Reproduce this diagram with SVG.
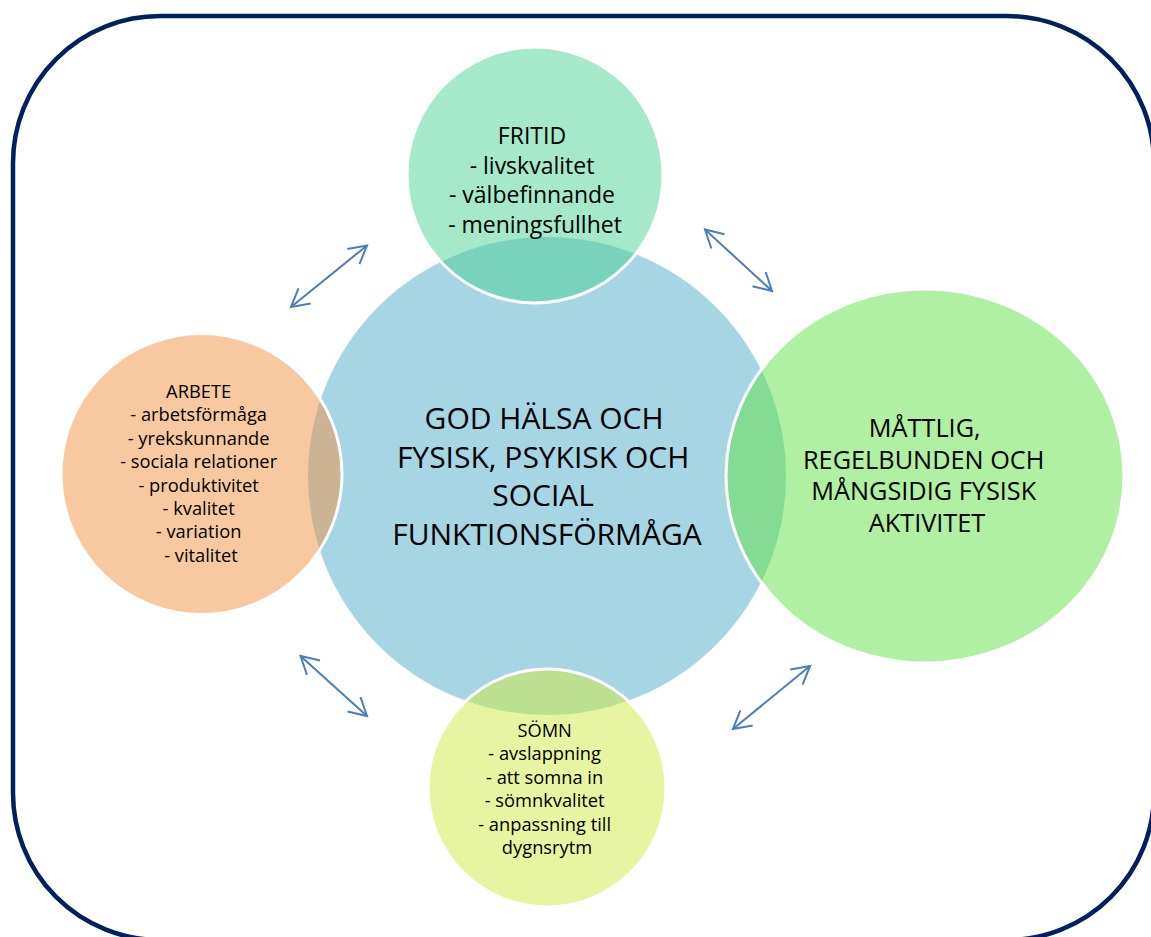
<svg xmlns="http://www.w3.org/2000/svg" width="1151" height="937" viewBox="0 0 1151 937">
  <style>
    .frame { fill: none; stroke: #002060; stroke-width: 4.5; }
    .hub { fill: #A6D5E3; }
    .sat { fill-opacity: 0.5; stroke: #FFFFFF; stroke-width: 3; }
    .lbl { font-family: "Open Sans", "Noto Sans", "Liberation Sans", sans-serif; fill: #000000; text-anchor: middle; }
    .conn { fill: none; stroke: #4A7EBB; stroke-width: 2; marker-start: url(#arr); marker-end: url(#arr); }
  </style>
  <defs>
    <marker id="arr" viewBox="-20 -11 22 22" markerWidth="22" markerHeight="22" refX="0" refY="0" markerUnits="userSpaceOnUse" orient="auto-start-reverse" overflow="visible">
      <path d="M-17.5,-9.7 L0,0 L-17.5,9.7" fill="none" stroke="#4A7EBB" stroke-width="2"/>
    </marker>
  </defs>

  <rect class="frame" x="13" y="16" width="1141" height="924" rx="147" ry="147"/>

  <g id="hub">
    <circle class="hub" cx="547" cy="476" r="239"/>
    <text class="lbl" font-size="30" x="547">
      <tspan x="548" y="429">GOD HÄLSA OCH</tspan>
      <tspan x="547" y="467.5">FYSISK, PSYKISK OCH</tspan>
      <tspan x="547" y="506">SOCIAL</tspan>
      <tspan x="547" y="544.5">FUNKTIONSFÖRMÅGA</tspan>
    </text>
  </g>

  <g id="fritid">
    <circle class="sat" cx="535" cy="175" r="128" fill="#4BD195"/>
    <text class="lbl" font-size="23">
      <tspan x="535" y="144">FRITID</tspan>
      <tspan x="535" y="173.5">- livskvalitet</tspan>
      <tspan x="535" y="203">- välbefinnande</tspan>
      <tspan x="535" y="232.5">- meningsfullhet</tspan>
    </text>
  </g>

  <g id="arbete">
    <circle class="sat" cx="201.5" cy="474" r="140.5" fill="#F29244"/>
    <text class="lbl" font-size="18.3">
      <tspan x="201" y="398">ARBETE</tspan>
      <tspan x="201" y="421.4">- arbetsförmåga</tspan>
      <tspan x="201" y="444.8">- yrekskunnande</tspan>
      <tspan x="201" y="468.2">- sociala relationer</tspan>
      <tspan x="201" y="491.6">- produktivitet</tspan>
      <tspan x="201" y="515">- kvalitet</tspan>
      <tspan x="201" y="538.4">- variation</tspan>
      <tspan x="201" y="561.8">- vitalitet</tspan>
    </text>
  </g>

  <g id="aktivitet">
    <ellipse class="sat" cx="925" cy="476" rx="199" ry="187" fill="#61E145"/>
    <text class="lbl" font-size="25.3">
      <tspan x="928" y="437">MÅTTLIG,</tspan>
      <tspan x="927" y="468.5">REGELBUNDEN OCH</tspan>
      <tspan x="927" y="500">MÅNGSIDIG FYSISK</tspan>
      <tspan x="927" y="532">AKTIVITET</tspan>
    </text>
  </g>

  <g id="somn">
    <circle class="sat" cx="547" cy="788" r="119" fill="#CFEB41"/>
    <text class="lbl" font-size="18.3">
      <tspan x="547" y="737">SÖMN</tspan>
      <tspan x="547" y="760.4">- avslappning</tspan>
      <tspan x="547" y="783.8">- att somna in</tspan>
      <tspan x="547" y="807.2">- sömnkvalitet</tspan>
      <tspan x="547" y="830.6">- anpassning till</tspan>
      <tspan x="547" y="854">dygnsrytm</tspan>
    </text>
  </g>

  <g id="connectors">
    <line class="conn" x1="291" y1="307" x2="367" y2="245.5"/>
    <line class="conn" x1="705" y1="229.5" x2="772" y2="291"/>
    <line class="conn" x1="300.5" y1="656" x2="367" y2="716"/>
    <line class="conn" x1="810" y1="666" x2="733" y2="729"/>
  </g>
</svg>
